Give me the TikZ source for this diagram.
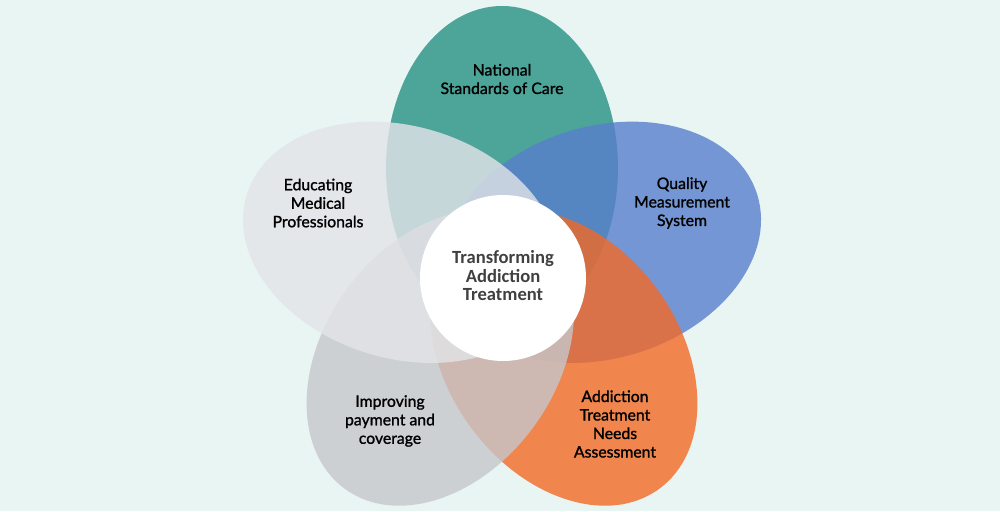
\documentclass[tikz,border=0pt]{standalone}
\usepackage{fontspec}
\setmainfont{Lato}
\newfontfamily\pfont[FakeBold=1.3]{Lato}
\newfontfamily\cfont{Carlito}
\definecolor{bgc}{RGB}{233,245,242}
\definecolor{tealc}{RGB}{38,146,133}
\definecolor{bluec}{RGB}{88,127,205}
\definecolor{orangec}{RGB}{242,105,37}
\definecolor{grayc}{RGB}{198,199,203}
\definecolor{lightc}{RGB}{227,228,232}
\definecolor{ctext}{RGB}{64,64,64}
\tikzset{
  petal/.style={opacity=0.8},
  ptext/.style={align=center, text=black, inner sep=0pt, font=\pfont\fontsize{15.8}{18.5}\selectfont},
  ctextst/.style={align=center, text=ctext, inner sep=0pt, font=\cfont\bfseries\fontsize{18.6}{18.5}\selectfont}
}
\begin{document}
\begin{tikzpicture}[x=1pt,y=1pt]
\useasboundingbox (0,0) rectangle (1000,511);
\fill[bgc] (0,0) rectangle (1000,511);
\coordinate (c) at (502,238);
\fill[tealc,petal,shift={(c)},rotate=0] (0,105) ellipse [x radius=116pt, y radius=162pt];
\fill[bluec,petal,shift={(c)},rotate=-73] (0,105) ellipse [x radius=116pt, y radius=162pt];
\fill[orangec,petal,shift={(c)},rotate=-144] (0,105) ellipse [x radius=116pt, y radius=162pt];
\fill[grayc,petal,shift={(c)},rotate=-216] (0,105) ellipse [x radius=116pt, y radius=162pt];
\fill[lightc,petal,shift={(c)},rotate=-287] (0,105) ellipse [x radius=116pt, y radius=162pt];
\node[circle, fill=white, minimum size=166pt, inner sep=0pt] (hub) at (503,233) {};
\node[ctextst] (hubtext) at (503,235) {Transforming\\Addiction\\Treatment};
\node[ptext] (nat) at (502,432) {National\\Standards of Care};
\node[ptext] (qual) at (682,308) {Quality\\Measurement\\System};
\node[ptext] (need) at (615,87) {Addiction\\Treatment\\Needs\\Assessment};
\node[ptext] (pay) at (390,90) {Improving\\payment and\\coverage};
\node[ptext] (edu) at (318,308) {Educating\\Medical\\Professionals};
\end{tikzpicture}
\end{document}
